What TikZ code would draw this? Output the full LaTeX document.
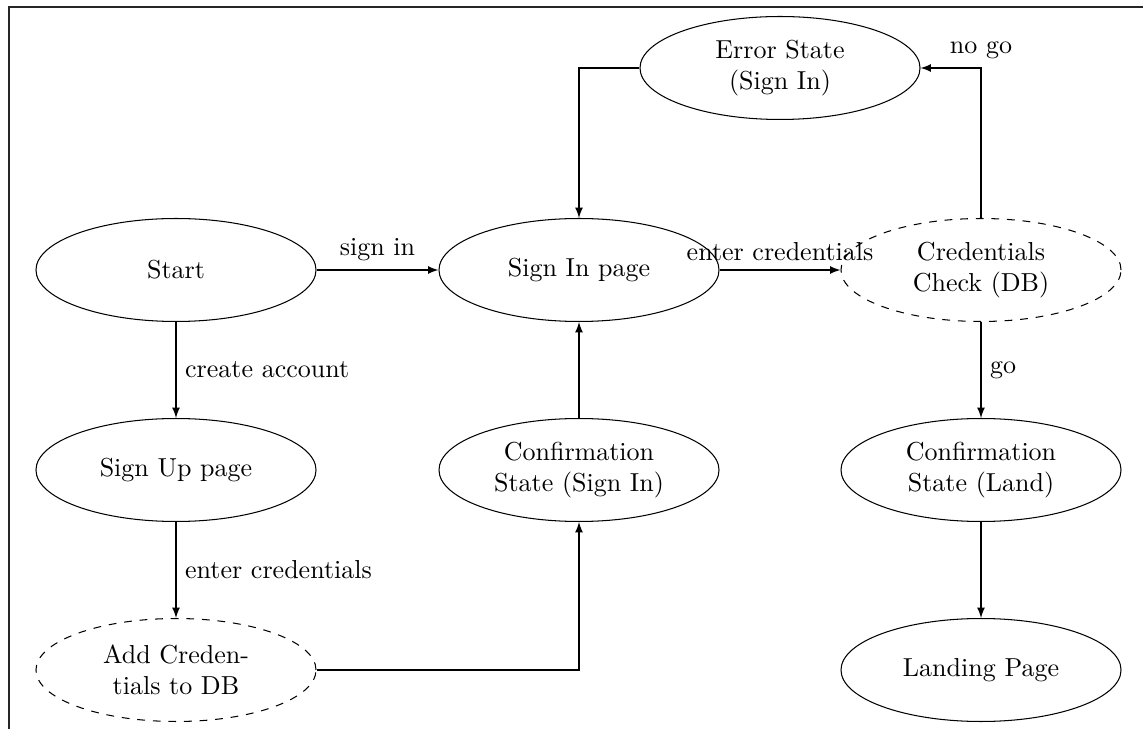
\documentclass[tikz,border=0pt]{standalone}
\usetikzlibrary{shapes.geometric}
\begin{document}
\begin{tikzpicture}[x=0.3846pt,y=-0.3846pt,>=latex,
  state/.style={ellipse,draw,minimum width=107.7pt,minimum height=39.6pt,
    inner sep=1pt,text width=2.4cm,align=center},
  check/.style={state,dashed},
  flow/.style={->}]
\useasboundingbox (0,0) rectangle (1143,729);
% outer frame
\draw[line width=0.6pt,black!85] (9,729) -- (9,7) -- (1143,7);

% states
\node[state] (start)   at (176,270) {Start};
\node[state] (signin)  at (579,270) {Sign In page};
\node[check] (cred)    at (981,270) {Credentials Check (DB)};
\node[state] (err)     at (780,68)  {Error State (Sign In)};
\node[state] (signup)  at (176,470) {Sign Up page};
\node[state] (confsi)  at (579,470) {Confirmation State (Sign In)};
\node[state] (confl)   at (981,470) {Confirmation State (Land)};
\node[check] (adddb)   at (176,670) {Add Credentials to DB};
\node[state] (landing) at (981,670) {Landing Page};

% transitions
\draw[flow] (start) -- node[above] {sign in} (signin);
\draw[flow] (start) -- node[right] {create account} (signup);
\draw[flow] (signup) -- node[right] {enter credentials} (adddb);
\draw[flow] (adddb.east) -| (confsi.south);
\draw[flow] (confsi) -- (signin);
\draw[flow] (signin) -- node[above] {enter credentials} (cred);
\draw[flow] (cred.north) |- node[above] {no go} (err.east);
\draw[flow] (err.west) -| (signin.north);
\draw[flow] (cred) -- node[right] {go} (confl);
\draw[flow] (confl) -- (landing);
\end{tikzpicture}
\end{document}
